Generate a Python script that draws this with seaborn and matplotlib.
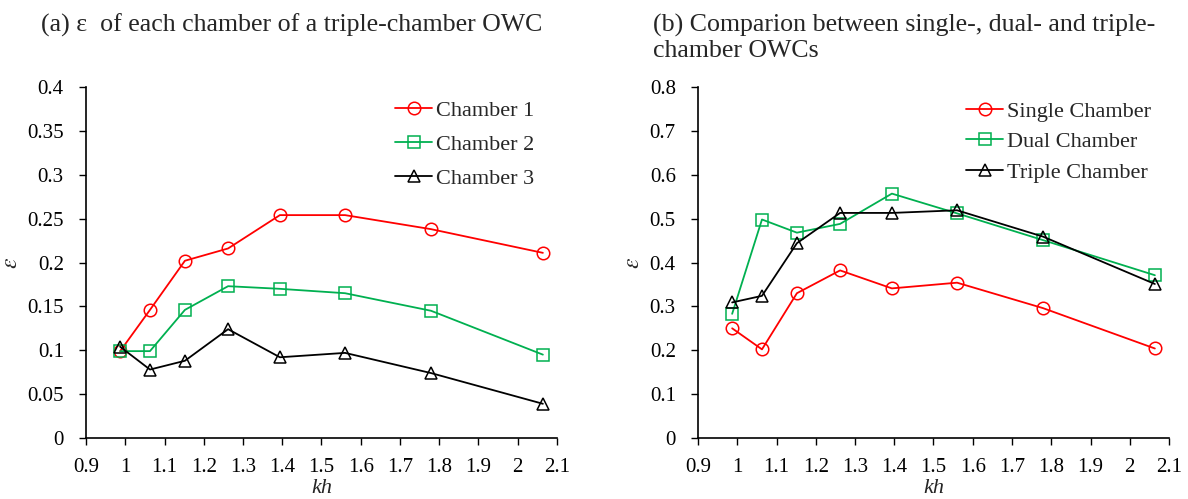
import numpy as np
import pandas as pd
import seaborn as sns
import matplotlib.pyplot as plt
from matplotlib.ticker import FuncFormatter

kh = [0.987, 1.063, 1.152, 1.262, 1.394, 1.560, 1.779, 2.064]

# (a) each chamber of the triple-chamber OWC
chamber_1 = [0.099, 0.146, 0.202, 0.216, 0.254, 0.254, 0.238, 0.211]
chamber_2 = [0.099, 0.099, 0.146, 0.173, 0.170, 0.165, 0.145, 0.095]
chamber_3 = [0.104, 0.078, 0.088, 0.124, 0.092, 0.097, 0.074, 0.039]

# (b) single / dual / triple
single = [0.250, 0.202, 0.330, 0.382, 0.341, 0.354, 0.296, 0.204]
dual = [0.283, 0.498, 0.468, 0.488, 0.557, 0.512, 0.451, 0.371]
triple = [0.309, 0.324, 0.444, 0.513, 0.513, 0.519, 0.459, 0.351]

red = "#FF0000"
green = "#00B050"
black = "#000000"

sns.set_style("ticks")
plt.rcParams['font.family'] = ['Liberation Serif', 'DejaVu Serif']
plt.rcParams['mathtext.fontset'] = 'stix'

fig = plt.figure(figsize=(11.88, 4.99), dpi=100)
W, H = 1188, 499
ax1 = fig.add_axes([86 / W, 1 - 438 / H, 471 / W, 351 / H])
ax2 = fig.add_axes([698 / W, 1 - 438 / H, 471 / W, 351 / H])

def fmt(v, pos):
    s = f"{v:.2f}".rstrip("0").rstrip(".")
    return s


def draw(ax, series, ymax, ystep):
    for name, vals, color, marker in series:
        df = pd.DataFrame({"kh": kh, "eps": vals})
        sns.lineplot(data=df, x="kh", y="eps", ax=ax, color=color, marker=marker,
                     markersize=9, mfc="none", mec=color, mew=1.1,
                     linewidth=1.3, label=name)
    ax.set_xlim(0.9, 2.1)
    ax.set_ylim(0, ymax)
    ax.set_xticks(np.round(np.arange(0.9, 2.1001, 0.1), 2))
    ax.set_yticks(np.round(np.arange(0, ymax + 1e-9, ystep), 3))
    ax.xaxis.set_major_formatter(FuncFormatter(fmt))
    ax.yaxis.set_major_formatter(FuncFormatter(fmt))
    ax.tick_params(labelsize=15, direction="out", length=5, width=1, colors="black")
    ax.tick_params(axis="y", pad=11)
    ax.tick_params(axis="x", pad=9.5)
    for s in ["left", "bottom"]:
        ax.spines[s].set_linewidth(1.2)
        ax.spines[s].set_color("black")
    sns.despine(ax=ax)
    ax.set_xlabel("kh", fontsize=16, style="italic", labelpad=1.5)
    ax.set_ylabel(r"$\varepsilon$", fontsize=17, labelpad=4)


draw(ax1, [("Chamber 1", chamber_1, red, "o"),
           ("Chamber 2", chamber_2, green, "s"),
           ("Chamber 3", chamber_3, black, "^")], 0.4, 0.05)
draw(ax2, [("Single Chamber", single, red, "o"),
           ("Dual Chamber", dual, green, "s"),
           ("Triple Chamber", triple, black, "^")], 0.8, 0.1)

ax1.legend(loc="upper left", bbox_to_anchor=(0.656, 0.962), frameon=False,
           fontsize=16, handlelength=1.67, handletextpad=0.18,
           labelspacing=0.6, borderpad=0, borderaxespad=0)
ax2.legend(loc="upper left", bbox_to_anchor=(0.569, 0.96), frameon=False,
           fontsize=16, handlelength=1.67, handletextpad=0.18,
           labelspacing=0.45, borderpad=0, borderaxespad=0)

fig.text(41 / W, 1 - 14 / H, "(a) ε  of each chamber of a triple-chamber OWC",
         fontsize=18.6, va="top", ha="left")
fig.text(653 / W, 1 - 14 / H,
         "(b) Comparion between single-, dual- and triple-\nchamber OWCs",
         fontsize=18.6, va="top", ha="left", linespacing=1.15)

fig.savefig("out.png", dpi=100)
